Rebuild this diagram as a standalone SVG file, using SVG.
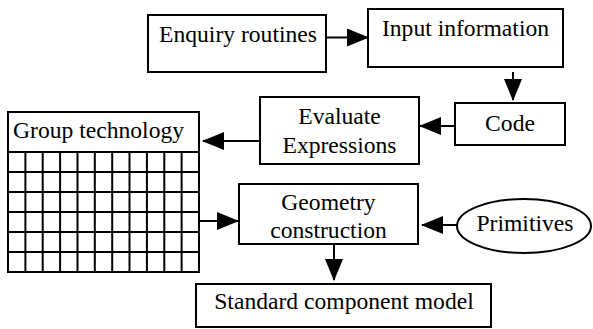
<svg xmlns="http://www.w3.org/2000/svg" width="593" height="329" viewBox="0 0 593 329">
<style>
.box{fill:#fff;stroke:#000;stroke-width:2}
.t{font-family:'Liberation Serif','Tinos','Times New Roman','DejaVu Serif',serif;font-size:23.6px;fill:#000;text-anchor:middle}
.c{stroke:#000;stroke-width:2;fill:none}
.g{stroke:#000;stroke-width:2}
</style>
<defs>
<marker id="ah" markerUnits="userSpaceOnUse" markerWidth="22" markerHeight="18" refX="21" refY="9" orient="auto">
<path d="M0,0 L22,9 L0,18 Z" fill="#000"/>
</marker>
</defs>
<rect width="593" height="329" fill="#fff"/>
<g id="n-enquiry">
<rect class="box" x="148" y="15" width="178" height="57"/>
<text class="t" x="238" y="42" font-family="Liberation Serif, serif">Enquiry routines</text>
</g>
<g id="n-input">
<rect class="box" x="368" y="9" width="195" height="58"/>
<text class="t" x="465.5" y="36">Input information</text>
</g>
<g id="n-code">
<rect class="box" x="455" y="103" width="110" height="42"/>
<text class="t" x="510" y="131">Code</text>
</g>
<g id="n-evaluate">
<rect class="box" x="260" y="97" width="159" height="67"/>
<text class="t" x="339.5" y="124">Evaluate</text>
<text class="t" x="339.5" y="153">Expressions</text>
</g>
<g id="n-group">
<rect class="box" x="8" y="112" width="191" height="160"/>
<line class="g" x1="8" y1="152" x2="199" y2="152"/>
<g class="g">
<line x1="8" y1="172" x2="199" y2="172"/>
<line x1="8" y1="192" x2="199" y2="192"/>
<line x1="8" y1="212" x2="199" y2="212"/>
<line x1="8" y1="232" x2="199" y2="232"/>
<line x1="8" y1="252" x2="199" y2="252"/>
<line x1="25.4" y1="152" x2="25.4" y2="272"/>
<line x1="42.7" y1="152" x2="42.7" y2="272"/>
<line x1="60.1" y1="152" x2="60.1" y2="272"/>
<line x1="77.5" y1="152" x2="77.5" y2="272"/>
<line x1="94.8" y1="152" x2="94.8" y2="272"/>
<line x1="112.2" y1="152" x2="112.2" y2="272"/>
<line x1="129.5" y1="152" x2="129.5" y2="272"/>
<line x1="146.9" y1="152" x2="146.9" y2="272"/>
<line x1="164.3" y1="152" x2="164.3" y2="272"/>
<line x1="181.6" y1="152" x2="181.6" y2="272"/>
</g>
<text class="t" x="13" y="138" style="text-anchor:start">Group technology</text>
</g>
<g id="n-geometry">
<rect class="box" x="239" y="184" width="179" height="60"/>
<text class="t" x="328.5" y="210">Geometry</text>
<text class="t" x="328.5" y="238">construction</text>
</g>
<g id="n-primitives">
<ellipse class="box" cx="524" cy="226" rx="67" ry="27"/>
<text class="t" x="525" y="231">Primitives</text>
</g>
<g id="n-standard">
<rect class="box" x="196" y="284" width="295" height="43"/>
<text class="t" x="344" y="309">Standard component model</text>
</g>
<g id="connectors">
<line class="c" x1="326" y1="37.5" x2="368" y2="37.5" marker-end="url(#ah)"/>
<line class="c" x1="513" y1="72" x2="513" y2="100" marker-end="url(#ah)"/>
<line class="c" x1="455" y1="126" x2="420" y2="126" marker-end="url(#ah)"/>
<line class="c" x1="260" y1="141" x2="203" y2="141" marker-end="url(#ah)"/>
<line class="c" x1="199" y1="221" x2="238" y2="221" marker-end="url(#ah)"/>
<line class="c" x1="457" y1="225" x2="422" y2="225" marker-end="url(#ah)"/>
<line class="c" x1="334" y1="244" x2="334" y2="280" marker-end="url(#ah)"/>
</g>
</svg>
